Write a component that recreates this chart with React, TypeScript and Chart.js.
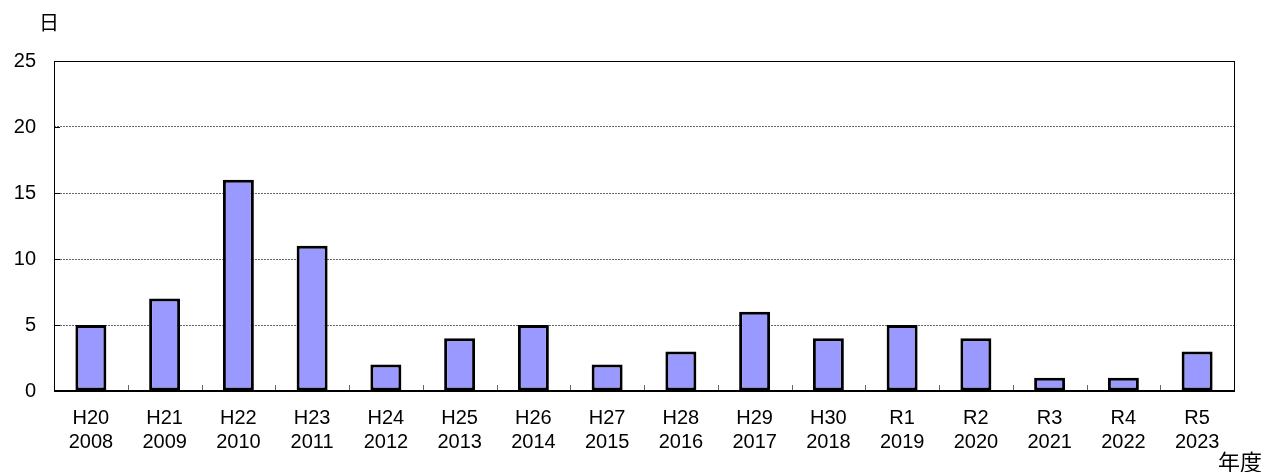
import React, { useEffect, useRef } from "react";
import { Chart, registerables } from "chart.js";

Chart.register(...registerables);

const eraLabels = ["H20", "H21", "H22", "H23", "H24", "H25", "H26", "H27", "H28", "H29", "H30", "R1", "R2", "R3", "R4", "R5"];
const yearLabels = ["2008", "2009", "2010", "2011", "2012", "2013", "2014", "2015", "2016", "2017", "2018", "2019", "2020", "2021", "2022", "2023"];
const days = [5, 7, 16, 11, 2, 4, 5, 2, 3, 6, 4, 5, 4, 1, 1, 3];
const yTicks = [0, 5, 10, 15, 20, 25];
const yUnit = "日";
const xUnit = "年度";

const FONT = "'Liberation Sans', 'Noto Sans CJK JP', sans-serif";

const framePlugin = {
  id: "frame",
  afterDraw(chart: any) {
    const { ctx, chartArea } = chart;
    const { left, right, top, bottom } = chartArea;
    const x = chart.scales.x;
    const y = chart.scales.y;
    ctx.save();
    ctx.strokeStyle = "#666";
    ctx.lineWidth = 1;
    for (let i = 1; i < eraLabels.length; i++) {
      const px = Math.round((x.getPixelForValue(i - 1) + x.getPixelForValue(i)) / 2) + 0.5;
      ctx.beginPath();
      ctx.moveTo(px, bottom);
      ctx.lineTo(px, bottom - 6);
      ctx.stroke();
    }
    ctx.strokeStyle = "#000";
    yTicks.forEach((v) => {
      const py = Math.round(y.getPixelForValue(v)) + 0.5;
      ctx.beginPath();
      ctx.moveTo(left, py);
      ctx.lineTo(left + 6, py);
      ctx.stroke();
    });
    ctx.strokeStyle = "#000";
    ctx.lineWidth = 1;
    ctx.strokeRect(Math.round(left) + 0.5, Math.round(top) + 0.5, Math.round(right - left), Math.round(bottom - top));
    ctx.lineWidth = 2;
    ctx.beginPath();
    ctx.moveTo(left, Math.round(bottom));
    ctx.lineTo(right, Math.round(bottom));
    ctx.stroke();
    ctx.fillStyle = "#000";
    ctx.font = "20px 'Noto Sans CJK JP', sans-serif";
    ctx.textAlign = "center";
    ctx.textBaseline = "middle";
    ctx.fillText(yUnit, 49, 22);
    ctx.font = "22px 'Noto Sans CJK JP', sans-serif";
    ctx.textAlign = "left";
    ctx.textBaseline = "top";
    ctx.fillText(xUnit, 1218, 451);
    ctx.restore();
  },
};

export default function App() {
  const ref = useRef<HTMLCanvasElement>(null);
  useEffect(() => {
    if (!ref.current) return;
    const chart = new Chart(ref.current, {
      type: "bar",
      data: {
        labels: eraLabels.map((e, i) => [e, yearLabels[i]]),
        datasets: [
          {
            data: days,
            backgroundColor: "#9999FF",
            borderColor: "#000000",
            borderWidth: 3,
            barPercentage: 0.42,
            categoryPercentage: 1,
            borderSkipped: false,
          },
        ],
      },
      options: {
        animation: false,
        responsive: true,
        maintainAspectRatio: false,
        layout: { padding: { left: 0, top: 61, right: 30, bottom: 0 } },
        plugins: { legend: { display: false }, tooltip: { enabled: false } },
        scales: {
          x: {
            grid: { display: false, drawTicks: false },
            border: { display: false },
            ticks: {
              color: "#000",
              font: { family: FONT, size: 20, lineHeight: 1.17 },
              padding: 16,
              maxRotation: 0,
              autoSkip: false,
            },
            afterFit(scale: any) {
              scale.height = 81;
            },
          },
          y: {
            min: 0,
            max: 25,
            afterBuildTicks(scale: any) {
              scale.ticks = yTicks.map((v) => ({ value: v }));
            },
            grid: {
              color: "#666",
              lineWidth: 1,
              drawTicks: false,
            },
            border: { display: false, dash: [2, 1] },
            ticks: {
              color: "#000",
              font: { family: FONT, size: 20 },
              padding: 18,
            },
            afterFit(scale: any) {
              scale.width = 54;
            },
          },
        },
      },
      plugins: [framePlugin],
    });
    return () => chart.destroy();
  }, []);
  return (
    <div style={{ position: "fixed", left: 0, top: 0, width: 1264, height: 472, background: "#fff" }}>
      <canvas ref={ref} />
    </div>
  );
}
